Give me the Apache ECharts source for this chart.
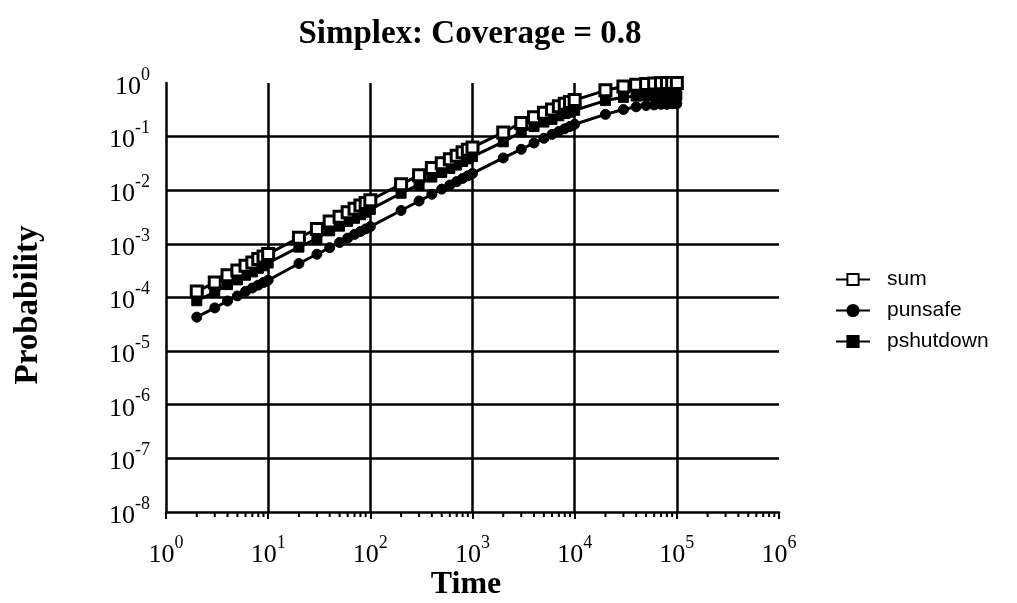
<!DOCTYPE html>
<html>
<head>
<meta charset="utf-8">
<script src="https://cdn.jsdelivr.net/npm/echarts@6/dist/echarts.min.js"></script>
<style>html,body{margin:0;padding:0;background:#fff}#c{width:1017px;height:603px}</style>
</head>
<body>
<div id="c"></div>
<script>
// ---- data ----
var times = [2,3,4,5,6,7,8,9,10,
  20,30,40,50,60,70,80,90,100,
  200,300,400,500,600,700,800,900,1000,
  2000,3000,4000,5000,6000,7000,8000,9000,10000,
  20000,30000,40000,50000,60000,70000,80000,90000,100000];
var sumVals = [1.3e-4,1.9e-4,2.6e-4,3.2e-4,3.9e-4,4.5e-4,5.2e-4,5.8e-4,6.5e-4,
  1.3e-3,1.9e-3,2.6e-3,3.2e-3,3.9e-3,4.5e-3,5.2e-3,5.8e-3,6.5e-3,
  1.3e-2,1.9e-2,2.6e-2,3.2e-2,3.8e-2,4.4e-2,5.1e-2,5.7e-2,6.3e-2,
  0.12,0.18,0.23,0.28,0.32,0.37,0.41,0.44,0.48,
  0.73,0.86,0.93,0.96,0.98,0.99,0.995,0.997,0.998];
var punsafeVals = [4.3e-5,6.4e-5,8.6e-5,1.07e-4,1.3e-4,1.5e-4,1.7e-4,1.9e-4,2.1e-4,
  4.3e-4,6.4e-4,8.5e-4,1.06e-3,1.28e-3,1.5e-3,1.7e-3,1.9e-3,2.1e-3,
  4.2e-3,6.3e-3,8.4e-3,1.05e-2,1.25e-2,1.45e-2,1.66e-2,1.86e-2,2.06e-2,
  0.04,0.058,0.076,0.093,0.11,0.125,0.14,0.155,0.17,
  0.26,0.32,0.36,0.38,0.39,0.40,0.40,0.41,0.41];
var pshutdownVals = [8.7e-5,1.26e-4,1.74e-4,2.13e-4,2.6e-4,3.0e-4,3.5e-4,3.9e-4,4.4e-4,
  8.7e-4,1.26e-3,1.75e-3,2.14e-3,2.62e-3,3.0e-3,3.5e-3,3.9e-3,4.4e-3,
  8.8e-3,1.27e-2,1.76e-2,2.15e-2,2.55e-2,2.95e-2,3.44e-2,3.84e-2,4.24e-2,
  0.08,0.122,0.154,0.187,0.21,0.245,0.27,0.285,0.31,
  0.47,0.54,0.57,0.58,0.59,0.59,0.595,0.587,0.588];
var seriesNames = ['sum','punsafe','pshutdown'];
var titleText = 'Simplex: Coverage = 0.8';
var xName = 'Time';
var yName = 'Probability';

// minor tick positions on the log time axis (2..9 x 10^d)
var minorTicks = [];
for (var d = 0; d < 6; d++) for (var k = 2; k < 10; k++) minorTicks.push([k * Math.pow(10, d), 1e-8]);

function zip(xs, ys){ return xs.map(function(x,i){ return [x, ys[i]]; }); }
function supLabel(v){
  var e = Math.round(Math.log10(v));
  return '{b|10}{s|' + e + '}';
}
var serif = '"Liberation Serif", "Times New Roman", serif';
var rich = {
  b: {fontFamily: serif, fontSize: 26, color: '#000', lineHeight: 34, verticalAlign: 'bottom'},
  s: {fontFamily: serif, fontSize: 18, color: '#000', lineHeight: 34, verticalAlign: 'top'}
};

var chart = echarts.init(document.getElementById('c'), null, {renderer: 'canvas'});
chart.setOption({
  backgroundColor: '#fff',
  animation: false,
  title: {
    text: titleText, left: 465, textAlign: 'center', top: 13,
    textStyle: {fontFamily: serif, fontWeight: 'bold', fontSize: 33, color: '#000'}
  },
  graphic: [
    {type: 'text', x: 28, y: 305, rotation: Math.PI / 2,
     style: {text: yName, fontFamily: serif, fontWeight: 'bold', fontSize: 33, fill: '#000',
             textAlign: 'center', textVerticalAlign: 'middle'}},
    {type: 'text', x: 466, y: 585,
     style: {text: xName, fontFamily: serif, fontWeight: 'bold', fontSize: 32, fill: '#000',
             textAlign: 'center', textVerticalAlign: 'middle'}}
  ],
  legend: {
    data: seriesNames, orient: 'vertical', left: 830, top: 264,
    itemWidth: 34, itemHeight: 14, itemGap: 10,
    textStyle: {fontFamily: '"Liberation Sans", Arial, sans-serif', fontSize: 21, color: '#000',
                padding: [0, 0, 0, 12]}
  },
  grid: {left: 166, right: 238, top: 83, bottom: 91, containLabel: false},
  xAxis: {
    type: 'log', logBase: 10, min: 1, max: 1e6,
    axisLine: {show: true, onZero: false, lineStyle: {color: '#000', width: 2.5}},
    axisTick: {show: true, length: 7, inside: false, lineStyle: {color: '#000', width: 2}},
    axisLabel: {formatter: supLabel, rich: rich, margin: 22},
    splitLine: {show: true, showMinLine: false, showMaxLine: false, lineStyle: {color: '#000', width: 2.5}}
  },
  yAxis: {
    type: 'log', logBase: 10, min: 1e-8, max: 1,
    axisLine: {show: true, lineStyle: {color: '#000', width: 2.5}},
    axisTick: {show: false},
    axisLabel: {formatter: supLabel, rich: rich, margin: 16},
    splitLine: {show: true, showMinLine: false, showMaxLine: false, lineStyle: {color: '#000', width: 2.5}}
  },
  series: [
    {
      name: 'pshutdown', type: 'line', data: zip(times, pshutdownVals),
      symbol: 'rect', symbolSize: 10, showAllSymbol: true,
      lineStyle: {color: '#000', width: 3},
      itemStyle: {color: '#000', borderColor: '#000', borderWidth: 1}, z: 3
    },
    {
      name: 'punsafe', type: 'line', data: zip(times, punsafeVals),
      symbol: 'circle', symbolSize: 10, showAllSymbol: true,
      lineStyle: {color: '#000', width: 3},
      itemStyle: {color: '#000', borderColor: '#000', borderWidth: 1}, z: 3
    },
    {
      name: 'sum', type: 'line', data: zip(times, sumVals),
      symbol: 'rect', symbolSize: 11, showAllSymbol: true,
      lineStyle: {color: '#000', width: 3},
      itemStyle: {color: '#fff', borderColor: '#000', borderWidth: 3}, z: 4
    },
    {
      name: 'minor', type: 'custom', data: minorTicks, clip: false, silent: true, z: 5,
      renderItem: function(params, api){
        var p = api.coord([api.value(0), api.value(1)]);
        return {type: 'line', shape: {x1: p[0], y1: p[1], x2: p[0], y2: p[1] + 5},
                style: {stroke: '#000', lineWidth: 2}};
      }
    }
  ]
});
</script>
</body>
</html>
